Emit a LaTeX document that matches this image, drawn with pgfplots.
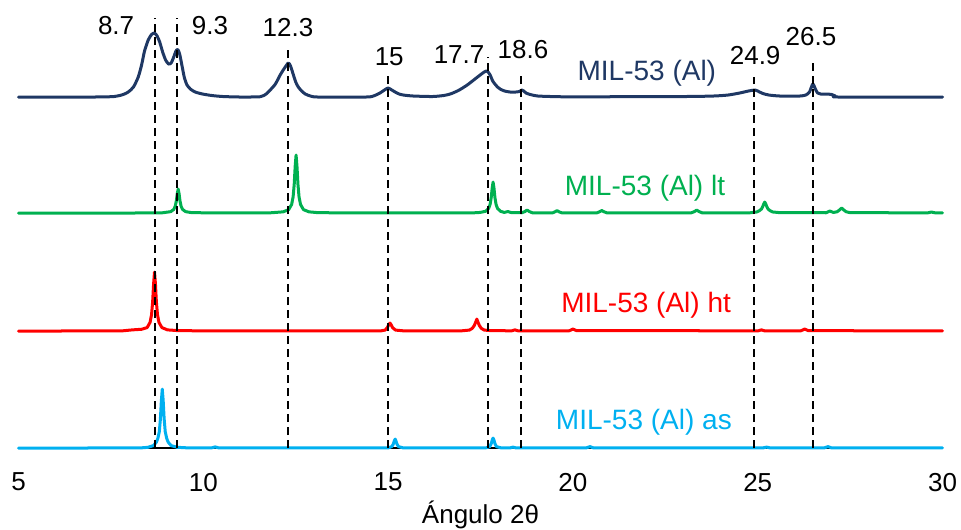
\documentclass[border=0pt]{standalone}
\usepackage{pgfplots}
\pgfplotsset{compat=1.18}
\usepackage{fontspec}
\setmainfont{Liberation Sans}

\definecolor{milnavy}{RGB}{31,56,100}
\definecolor{milgreen}{RGB}{0,176,80}
\definecolor{milred}{RGB}{255,0,0}
\definecolor{milblue}{RGB}{0,176,240}

\tikzset{
  trace/.style={line width=1.5bp, line join=round, line cap=round},
  peakline/.style={black, line width=1bp, dash pattern=on 4bp off 2.5bp},
  peaklabel/.style={font=\fontsize{13bp}{15bp}\selectfont, anchor=center, inner sep=0pt},
  serieslabel/.style={font=\fontsize{14bp}{16bp}\selectfont, anchor=center, inner sep=0pt},
}

% stacked XRD patterns: each trace sits on its own baseline
% (as: 0, ht: 117, lt: 235, MIL-53 (Al): 351)
\pgfplotstableread{
x y
5 351
7.0 351
7.59 351.5
7.83 353.5
7.97 356
8.11 361
8.24 371
8.33 383
8.41 397
8.51 408
8.60 413.5
8.68 415
8.75 412
8.82 406
8.90 396
8.98 388
9.06 384
9.13 385
9.20 391
9.26 397
9.31 398.5
9.36 394
9.42 383
9.49 370
9.56 363
9.65 359
9.78 356
9.98 354
10.23 352.5
10.53 351.5
11.0 351
11.54 351.3
11.7 354
11.81 358
11.95 364
12.08 373
12.18 379
12.3 385
12.36 382
12.43 374
12.5 366
12.57 361
12.66 357
12.76 354
12.9 352
13.1 351
14.4 351
14.6 352
14.78 355
14.9 358
15.0 360
15.1 358
15.19 356
15.3 354
15.41 353
15.68 352
16.2 351.5
16.5 352.5
16.68 354
16.9 357.5
17.14 363
17.35 369
17.49 373
17.6 376
17.68 377
17.76 373
17.83 367
17.89 364
17.96 361
18.03 359
18.15 357
18.3 356
18.45 356
18.55 356.5
18.62 358
18.67 357
18.73 355
18.8 354
18.9 353
19.05 352
19.4 351.5
20 351.2
23.0 351.5
23.8 352
24.2 353
24.51 355
24.75 357
24.93 358
25.05 356
25.14 354.5
25.3 353
25.6 352
26.14 352
26.3 353
26.4 356
26.49 364
26.56 359
26.62 355
26.7 354
26.86 354
27.0 353.5
27.1 352
27.2 351
30 351
}\milal

\pgfplotstableread{
x y
5 235
8.0 235
8.9 235.3
9.12 236.4
9.2 238.6
9.24 241.7
9.27 247
9.295 254.2
9.32 259
9.345 254.2
9.37 247
9.4 241.7
9.44 238.6
9.52 236.4
9.67 235.5
10.2 235.1
11.8 235.2
12.16 236.2
12.31 238.4
12.39 243.6
12.43 251.2
12.46 264
12.485 281.4
12.51 293
12.535 281.4
12.56 264
12.59 251.2
12.63 243.6
12.71 238.4
12.86 236.2
13.1 235.4
14 235.1
17.3 235.2
17.49 235.6
17.64 236.8
17.72 239.6
17.76 243.7
17.79 250.5
17.815 259.8
17.84 266
17.865 259.8
17.89 250.5
17.92 243.7
17.96 239.6
18.04 236.8
18.14 235.6
18.24 236.5
18.34 235.4
18.62 235.3
18.7 236.5
18.76 238
18.82 236.5
18.9 235.3
19.45 235.2
19.52 236.3
19.57 237.5
19.62 236.3
19.7 235.2
20.65 235.2
20.72 236.3
20.78 237.5
20.84 236.3
20.92 235.2
23.2 235.2
23.29 236.5
23.35 238
23.41 236.5
23.5 235.2
24.8 235.3
24.98 236.1
25.05 237.5
25.1 239
25.13 241.1
25.16 243.8
25.19 246
25.22 243.8
25.25 241.1
25.28 239
25.33 237.5
25.4 236.1
25.6 235.4
26.85 235.3
26.95 237
27.05 235.6
27.15 236.3
27.21 238
27.27 240
27.33 238
27.39 236.3
27.5 235.4
29.6 235.2
29.7 236
29.8 235.2
30 235.2
}\milallt

\pgfplotstableread{
x y
5 117
7.8 117.2
8.08 118.2
8.33 118.8
8.48 120.5
8.56 125.7
8.6 133.5
8.63 146.5
8.655 164.2
8.68 176
8.705 164.2
8.73 146.5
8.76 133.5
8.8 125.7
8.88 120.5
9.03 118.2
9.3 117.5
10 117.2
14.8 117.2
14.92 118
14.98 120.5
15.02 123.5
15.05 125
15.08 123.5
15.12 120.5
15.2 118
15.4 117.3
17.0 117.3
17.2 118
17.28 119.8
17.33 122.5
17.37 126
17.4 129
17.43 126
17.47 122.5
17.52 119.8
17.6 118
17.8 117.4
18.35 117.3
18.43 118.2
18.51 117.3
19.9 117.3
20.0 119
20.1 117.4
25.02 117.3
25.1 118.2
25.18 117.3
26.17 117.3
26.27 119
26.37 117.4
30 117.2
}\milalht

\pgfplotstableread{
x y
5 0
8.3 0.2
8.5 0.8
8.65 2.5
8.73 5.9
8.77 9.7
8.81 16.5
8.84 29.5
8.865 47.2
8.89 59
8.915 47.2
8.94 29.5
8.97 16.5
9.01 9.7
9.05 5.9
9.13 2.5
9.3 0.8
9.6 0.2
10.22 0.2
10.32 1.2
10.42 0.2
15.0 0.2
15.1 1.5
15.14 4
15.17 7.5
15.19 9
15.21 7.5
15.24 4
15.28 1.5
15.4 0.3
17.65 0.3
17.75 1.5
17.79 4.5
17.82 8.5
17.84 10
17.86 8.5
17.89 4.5
17.93 1.5
18.05 0.3
18.3 0.2
18.38 1
18.46 0.2
20.36 0.2
20.46 1.5
20.56 0.2
25.14 0.2
25.24 1
25.34 0.2
26.8 0.2
26.9 1.5
27.0 0.2
30 0.2
}\milalas

\begin{document}
\begin{tikzpicture}
\begin{axis}[
  scale only axis,
  width=461.9bp, height=224bp,
  xmin=5, xmax=30, ymin=0, ymax=448,
  clip=false,
  axis x line*=bottom, axis y line=none,
  x axis line style={draw=none},
  xtick={5,10,15,20,25,30}, ytick=\empty,
  major tick length=0pt,
  /pgf/number format/assume math mode=true,
  xticklabel style={anchor=center, yshift=-17bp, font=\fontsize{13bp}{15bp}\selectfont},
  xlabel={Ángulo 2θ},
  xlabel style={at={(axis description cs:0.5,0)}, anchor=center, yshift=-33.5bp,
    font=\fontsize{13bp}{15bp}\selectfont},
]
% baseline of the 2-theta axis
\addplot[black, line width=0.8bp] coordinates {(5,0) (30,0)};

\addplot[trace, milnavy, smooth, tension=0.4] table {\milal};
\addplot[trace, milgreen] table {\milallt};
\addplot[trace, milred] table {\milalht};
\addplot[trace, milblue] table {\milalas};

% reference reflections
\addplot[peakline] coordinates {(8.7,0) (8.7,430)};
\addplot[peakline] coordinates {(9.3,0) (9.3,430)};
\addplot[peakline] coordinates {(12.3,0) (12.3,398)};
\addplot[peakline] coordinates {(15,0) (15,373)};
\addplot[peakline] coordinates {(17.7,0) (17.7,391)};
\addplot[peakline] coordinates {(18.6,0) (18.6,373)};
\addplot[peakline] coordinates {(24.9,0) (24.9,371)};
\addplot[peakline] coordinates {(26.5,0) (26.5,385)};

\node[peaklabel] at (axis cs:7.64,422) {8.7};
\node[peaklabel] at (axis cs:10.18,422) {9.3};
\node[peaklabel] at (axis cs:12.29,420.5) {12.3};
\node[peaklabel] at (axis cs:15.03,391) {15};
\node[peaklabel] at (axis cs:16.92,393) {17.7};
\node[peaklabel] at (axis cs:18.65,398) {18.6};
\node[peaklabel] at (axis cs:24.93,392) {24.9};
\node[peaklabel] at (axis cs:26.44,411) {26.5};

\node[serieslabel, text=milnavy] at (axis cs:22.0,375) {MIL-53 (Al)};
\node[serieslabel, text=milgreen] at (axis cs:21.95,260) {MIL-53 (Al) lt};
\node[serieslabel, text=milred] at (axis cs:21.98,143) {MIL-53 (Al) ht};
\node[serieslabel, text=milblue] at (axis cs:21.92,26) {MIL-53 (Al) as};

\coordinate (bbsw) at (axis cs:4.4995,-81);
\coordinate (bbne) at (axis cs:30.5,448);
\end{axis}
\pgfresetboundingbox
\useasboundingbox (bbsw) rectangle (bbne);
\end{tikzpicture}
\end{document}
